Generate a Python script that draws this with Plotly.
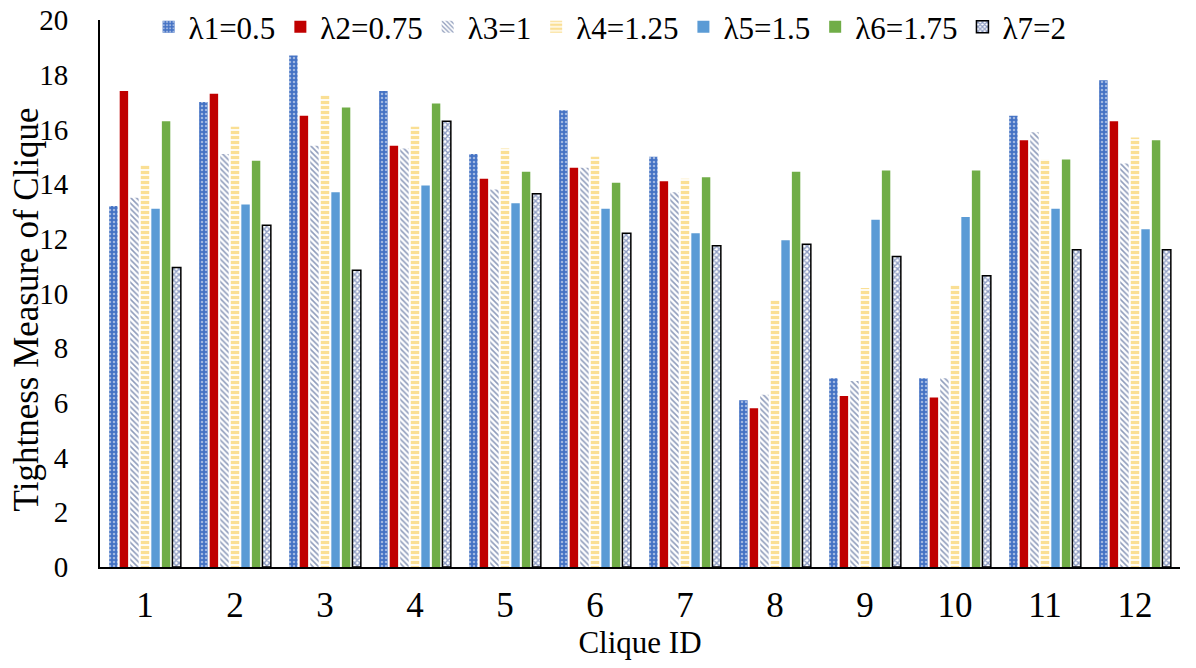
import plotly.graph_objects as go

# clique ids on the x axis
clique_ids = [str(i) for i in range(1, 13)]

# tightness measure per lambda setting
lam1 = [13.2, 17.0, 18.7, 17.4, 15.1, 16.7, 15.0, 6.1, 6.9, 6.9, 16.5, 17.8]
lam2 = [17.4, 17.3, 16.5, 15.4, 14.2, 14.6, 14.1, 5.8, 6.25, 6.2, 15.6, 16.3]
lam3 = [13.5, 15.1, 15.4, 15.3, 13.8, 14.6, 13.7, 6.3, 6.8, 6.9, 15.9, 14.75]
lam4 = [14.7, 16.1, 17.25, 16.1, 15.3, 15.0, 14.2, 9.75, 10.2, 10.3, 14.9, 15.7]
lam5 = [13.1, 13.25, 13.7, 13.95, 13.3, 13.1, 12.2, 11.95, 12.7, 12.8, 13.1, 12.35]
lam6 = [16.3, 14.85, 16.8, 16.95, 14.45, 14.05, 14.25, 14.45, 14.5, 14.5, 14.9, 15.6]
lam7 = [10.95, 12.5, 10.85, 16.3, 13.65, 12.2, 11.75, 11.8, 11.35, 10.65, 11.6, 11.6]

series_names = ["λ1=0.5", "λ2=0.75", "λ3=1", "λ4=1.25", "λ5=1.5", "λ6=1.75", "λ7=2"]
series_values = [lam1, lam2, lam3, lam4, lam5, lam6, lam7]

y_title = "Tightness Measure of Clique"
x_title = "Clique ID"

# look of each series (colour, hatch pattern)
styles = [
    dict(color="#4472C4", pattern=dict(shape=".", fgcolor="white", bgcolor="#4472C4", size=4, solidity=0.3)),
    dict(color="#C00000"),
    dict(color="white", pattern=dict(shape="\\", fgcolor="#1F3A78", bgcolor="white", size=4, solidity=0.4)),
    dict(color="white", pattern=dict(shape="-", fgcolor="#F5C02A", bgcolor="white", size=5, solidity=0.65)),
    dict(color="#5B9BD5"),
    dict(color="#70AD47"),
    dict(color="white", pattern=dict(shape="x", fgcolor="#1F3C88", bgcolor="white", size=4, solidity=0.6),
         line=dict(color="black", width=1.5)),
]

FONT = "Liberation Serif"

fig = go.Figure()
for name, vals, st in zip(series_names, series_values, styles):
    marker = dict(color=st["color"])
    if "pattern" in st:
        marker["pattern"] = st["pattern"]
    marker["line"] = st.get("line", dict(width=0))
    fig.add_trace(go.Bar(x=clique_ids, y=vals, name=name, marker=marker))

# y title as a rotated annotation so it sits clear of the tick labels
fig.add_annotation(
    text=y_title, textangle=-90,
    xref="paper", yref="paper", x=-0.068, y=0.47,
    xanchor="center", yanchor="middle", showarrow=False,
    font=dict(family=FONT, size=35, color="black"),
)

# the page body has an 8px margin, so the figure is 8px smaller each way
fig.update_layout(
    width=1188,
    height=660,
    barmode="group",
    bargap=0.18,
    bargroupgap=0.2,
    paper_bgcolor="white",
    plot_bgcolor="white",
    margin=dict(l=92, r=16, t=12, b=101, autoexpand=False),
    font=dict(family=FONT, size=26, color="black"),
    legend=dict(
        orientation="h",
        x=0.045, y=0.987,
        xanchor="left", yanchor="middle",
        font=dict(family=FONT, size=31),
        bgcolor="rgba(0,0,0,0)",
        itemwidth=30,
        traceorder="normal",
    ),
    xaxis=dict(
        title=dict(text=x_title, font=dict(family=FONT, size=31), standoff=2),
        tickfont=dict(family=FONT, size=35),
        showline=True, linecolor="black", linewidth=2,
        showgrid=False, ticks="", ticklabelstandoff=6,
    ),
    yaxis=dict(
        tickfont=dict(family=FONT, size=29),
        range=[0, 20], dtick=2,
        showline=True, linecolor="black", linewidth=2,
        showgrid=False, zeroline=False, ticks="", ticklabelstandoff=24,
        ticklabeloverflow="allow",
    ),
)

fig.write_html("out.html")
